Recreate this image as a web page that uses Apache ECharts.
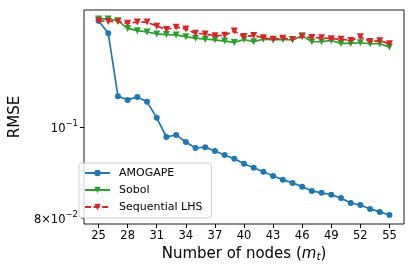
<!DOCTYPE html>
<html>
<head>
<meta charset="utf-8">
<script src="https://cdn.jsdelivr.net/npm/echarts@6/dist/echarts.min.js"></script>
<style>
html,body{margin:0;padding:0;background:#fff;}
#c{width:415px;height:272px;}
</style>
</head>
<body>
<div id="c"></div>
<script>
// ---- data ----
const nodes = [25,26,27,28,29,30,31,32,33,34,35,36,37,38,39,40,41,42,43,44,45,46,47,48,49,50,51,52,53,54,55];
const amogape = [0.1299,0.1260,0.1080,0.1070,0.1078,0.1065,0.1024,0.0977,0.0982,0.0965,0.0951,0.0953,0.0944,0.0935,0.0926,0.0915,0.0906,0.0897,0.0888,0.0880,0.0873,0.0865,0.0856,0.0852,0.0848,0.0841,0.0831,0.0827,0.0819,0.0813,0.0807];
const sobol = [0.1305,0.1305,0.1299,0.1275,0.1268,0.1264,0.1258,0.1256,0.1255,0.1249,0.1245,0.1242,0.1240,0.1236,0.1232,0.1241,0.1234,0.1242,0.1240,0.1241,0.1240,0.1252,0.1234,0.1234,0.1238,0.1229,0.1229,0.1231,0.1228,0.1228,0.1218];
const seqLHS = [0.1299,0.1297,0.1297,0.1291,0.1295,0.1295,0.1282,0.1272,0.1279,0.1273,0.1260,0.1258,0.1252,0.1254,0.1267,0.1250,0.1253,0.1246,0.1242,0.1245,0.1241,0.1249,0.1247,0.1246,0.1243,0.1242,0.1238,0.1249,0.1235,0.1237,0.1228];
const seriesNames = ['AMOGAPE','Sobol','Sequential LHS'];
const xTicks = [25,28,31,34,37,40,43,46,49,52,55];
const yLabelValues = [0.08, 0.1];
const yLabelMantissa = ['8×10', '10'];
const yLabelExponent = ['−2', '−1'];
const yMajorTicks = [0.1];
const yMinorTicks = [0.08, 0.09];

const FONT = 'DejaVu Sans';
const pair = arr => nodes.map((x,i)=>[x, arr[i]]);
const yMin = 0.078928, yMax = 0.13340;

function yFmt(v){
  for (let i=0;i<yLabelValues.length;i++){
    if (Math.abs(v - yLabelValues[i]) < 1e-6) return '{b|' + yLabelMantissa[i] + '}{s|' + yLabelExponent[i] + '}';
  }
  return '';
}

const chart = echarts.init(document.getElementById('c'), null, {renderer:'canvas'});
const yBase = {
  type:'log', logBase:10, min:yMin, max:yMax, position:'left',
  splitLine:{show:false}, axisLine:{show:false}
};
chart.setOption({
  animation:false,
  textStyle:{fontFamily:FONT},
  grid:{left:74, right:11, top:10, bottom:48, show:true, borderColor:'#1a1a1a', borderWidth:1, backgroundColor:'transparent'},
  legend:{
    orient:'vertical', left:79, top:163,
    data:seriesNames,
    itemWidth:25, itemHeight:8, itemGap:3,
    padding:[3,9,4,5],
    backgroundColor:'rgba(255,255,255,0.8)', borderColor:'#cccccc', borderWidth:1, borderRadius:3,
    textStyle:{fontFamily:FONT, fontSize:11, color:'#000', lineHeight:14, padding:[0,0,0,4]}
  },
  xAxis:{
    type:'value', min:23.5, max:56.5,
    name:'{n|Number of nodes (}{m|m}{t|t}{n|)}',
    nameLocation:'middle', nameGap:21,
    nameTextStyle:{
      rich:{
        n:{fontFamily:FONT, fontSize:15, color:'#000'},
        m:{fontFamily:FONT, fontSize:15, fontStyle:'italic', color:'#000'},
        t:{fontFamily:FONT, fontSize:10.5, fontStyle:'italic', color:'#000', padding:[6,0,0,0]}
      }
    },
    splitLine:{show:false},
    axisLine:{show:false},
    axisTick:{show:true, customValues:xTicks, length:4, lineStyle:{color:'#000', width:1}},
    axisLabel:{customValues:xTicks, fontFamily:FONT, fontSize:11.5, color:'#000', margin:6}
  },
  yAxis:[
    Object.assign({}, yBase, {
      name:'RMSE', nameLocation:'middle', nameGap:55,
      nameTextStyle:{fontFamily:FONT, fontSize:15, color:'#000'},
      axisTick:{show:true, customValues:yMajorTicks, length:4, lineStyle:{color:'#000', width:1}},
      axisLabel:{
        customValues:yLabelValues, margin:6, formatter:yFmt,
        rich:{
          b:{fontFamily:FONT, fontSize:11.5, color:'#000', lineHeight:16, verticalAlign:'bottom'},
          s:{fontFamily:FONT, fontSize:8.5, color:'#000', lineHeight:16, verticalAlign:'top'}
        }
      }
    }),
    Object.assign({}, yBase, {
      axisTick:{show:true, customValues:yMinorTicks, length:2.5, lineStyle:{color:'#000', width:1}},
      axisLabel:{show:false}
    })
  ],
  series:[
    {name:seriesNames[0], type:'line', data:pair(amogape), yAxisIndex:0,
     symbol:'circle', symbolSize:6, color:'#1f77b4',
     lineStyle:{width:1.7, color:'#1f77b4'}, itemStyle:{color:'#1f77b4'}, z:2},
    {name:seriesNames[1], type:'line', data:pair(sobol), yAxisIndex:0,
     symbol:'triangle', symbolRotate:180, symbolSize:7, color:'#2ca02c',
     lineStyle:{width:1.7, color:'#2ca02c'}, itemStyle:{color:'#2ca02c'}, z:3},
    {name:seriesNames[2], type:'line', data:pair(seqLHS), yAxisIndex:0,
     symbol:'triangle', symbolRotate:180, symbolSize:7, color:'#d62728',
     lineStyle:{width:1.7, color:'#d62728', type:[6,2.6]}, itemStyle:{color:'#d62728'}, z:4}
  ]
});
</script>
</body>
</html>
